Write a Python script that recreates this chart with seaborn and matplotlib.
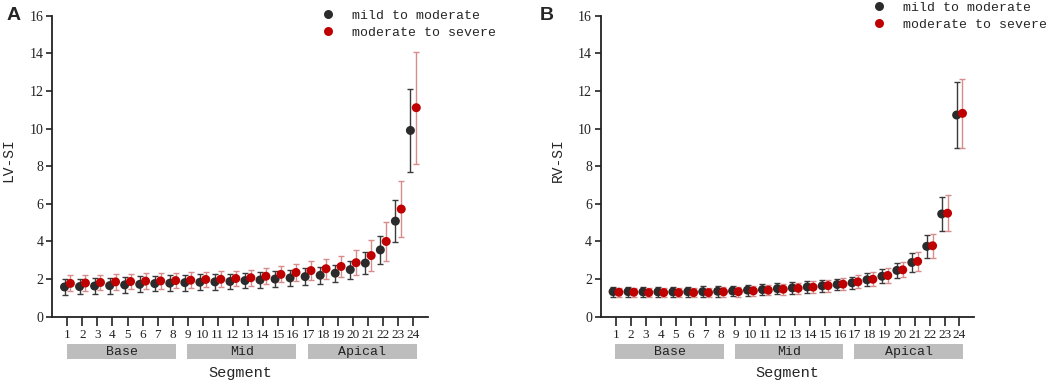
import numpy as np
import pandas as pd
import seaborn as sns
import matplotlib.pyplot as plt
import matplotlib.transforms as mtransforms
from matplotlib.patches import Rectangle

sns.set_style("ticks")
plt.rcParams['font.family'] = ['Liberation Serif', 'DejaVu Serif']

segments = list(range(1, 25))
groups = ["mild to moderate", "moderate to severe"]
regions = ["Base", "Mid", "Apical"]
region_start = [1, 9, 17]
region_end = [8, 16, 24]

# LV-SI (panel A)
lv_mild_mean = [1.58, 1.60, 1.63, 1.65, 1.69, 1.72, 1.76, 1.78, 1.81, 1.83, 1.85, 1.87,
                1.92, 1.95, 2.00, 2.06, 2.13, 2.20, 2.31, 2.50, 2.85, 3.55, 5.08, 9.90]
lv_mild_err = [0.42, 0.42, 0.42, 0.42, 0.42, 0.42, 0.42, 0.42, 0.42, 0.42, 0.42, 0.42,
               0.42, 0.42, 0.43, 0.44, 0.45, 0.45, 0.45, 0.48, 0.58, 0.75, 1.10, 2.19]
lv_sev_mean = [1.77, 1.79, 1.82, 1.85, 1.87, 1.89, 1.90, 1.92, 1.94, 1.98, 1.99, 2.03,
               2.07, 2.15, 2.25, 2.35, 2.45, 2.55, 2.67, 2.87, 3.25, 4.00, 5.72, 11.11]
lv_sev_err = [0.42, 0.42, 0.42, 0.42, 0.42, 0.42, 0.42, 0.42, 0.42, 0.42, 0.42, 0.42,
              0.42, 0.42, 0.43, 0.46, 0.50, 0.53, 0.57, 0.67, 0.80, 1.03, 1.50, 2.98]

# RV-SI (panel B)
rv_mild_mean = [1.33, 1.33, 1.32, 1.32, 1.32, 1.33, 1.33, 1.35, 1.37, 1.41, 1.44, 1.49,
                1.53, 1.58, 1.64, 1.71, 1.80, 1.96, 2.15, 2.46, 2.88, 3.74, 5.46, 10.72]
rv_mild_err = [0.27, 0.27, 0.27, 0.27, 0.27, 0.27, 0.28, 0.28, 0.28, 0.29, 0.29, 0.30,
               0.30, 0.31, 0.31, 0.31, 0.32, 0.34, 0.38, 0.39, 0.50, 0.60, 0.89, 1.74]
rv_sev_mean = [1.30, 1.30, 1.28, 1.28, 1.28, 1.28, 1.28, 1.32, 1.33, 1.37, 1.41, 1.46,
               1.51, 1.57, 1.65, 1.73, 1.85, 1.99, 2.19, 2.49, 2.94, 3.77, 5.50, 10.81]
rv_sev_err = [0.25, 0.25, 0.25, 0.25, 0.25, 0.25, 0.25, 0.26, 0.26, 0.27, 0.28, 0.29,
              0.30, 0.31, 0.32, 0.33, 0.34, 0.36, 0.38, 0.40, 0.51, 0.64, 0.96, 1.83]

pal = {"mild to moderate": "#2b2b2b", "moderate to severe": "#c00000"}
err_col = {"mild to moderate": "#3a3a3a", "moderate to severe": "#d98c8c"}
dodge = {"mild to moderate": -0.19, "moderate to severe": 0.2}
mono = "Liberation Mono"


def make_df(m1, e1, m2, e2):
    frames = []
    for g, m, e in [(groups[0], m1, e1), (groups[1], m2, e2)]:
        frames.append(pd.DataFrame({"segment": segments, "mean": m, "err": e, "group": g}))
    df = pd.concat(frames, ignore_index=True)
    df["x"] = df["segment"] + df["group"].map(dodge)
    return df


def draw(ax, df, ylabel, letter, letter_x, leg_anchor):
    for g in groups:
        sub = df[df["group"] == g]
        ax.errorbar(sub["x"], sub["mean"], yerr=sub["err"], fmt="none", ecolor=err_col[g],
                    elinewidth=1, capsize=2.2, capthick=1, zorder=2)
    sns.scatterplot(data=df, x="x", y="mean", hue="group", palette=pal, s=42,
                    linewidth=0, ax=ax, zorder=3)

    ax.set_xlim(0, 25)
    ax.set_ylim(0, 16)
    ax.set_xticks(segments)
    ax.set_yticks(np.arange(0, 17, 2))
    sns.despine(ax=ax)
    for s in ["left", "bottom"]:
        ax.spines[s].set_linewidth(1.3)
        ax.spines[s].set_color("#222222")
    ax.tick_params(axis="x", length=6.5, width=1.2, pad=2.5, labelsize=9.5, colors="#222222")
    ax.tick_params(axis="y", length=4.5, width=1.2, pad=2, labelsize=10, colors="#222222")

    ax.set_xlabel("Segment", fontsize=11, family=mono)
    ax.xaxis.label.set_va("center")
    ax.xaxis.set_label_coords(0.5, -0.186)
    ax.set_ylabel(ylabel, fontsize=10.5, family=mono)
    ax.yaxis.label.set_va("center")
    ax.yaxis.set_label_coords(-0.116, 0.52)

    trans = mtransforms.blended_transform_factory(ax.transData, ax.transAxes)
    for name, a, b in zip(regions, region_start, region_end):
        ax.add_patch(Rectangle((a - 0.03, -0.1415), b - a + 0.25, 0.051, transform=trans,
                               facecolor="#bdbdbd", edgecolor="none", clip_on=False))
        ax.text((a + b) / 2 + 0.1, -0.117, name, transform=trans, ha="center", va="center",
                fontsize=9.5, family=mono, color="#222222")

    handles, labels = ax.get_legend_handles_labels()
    ax.legend(handles=handles, labels=labels, loc="upper left", bbox_to_anchor=leg_anchor,
              frameon=False, borderpad=0, borderaxespad=0, handlelength=1.0,
              handletextpad=1.3, labelspacing=0.38, prop={"family": mono, "size": 9.5})

    ax.text(letter_x, 1.0, letter, transform=ax.transAxes, fontsize=14, fontweight="bold",
            family="Liberation Sans", ha="center", va="center")


fig = plt.figure(figsize=(10.49, 3.81), dpi=100)
ax_a = fig.add_axes([0.0499, 0.1688, 0.3584, 0.790])
ax_b = fig.add_axes([0.5729, 0.1688, 0.356, 0.790])

draw(ax_a, make_df(lv_mild_mean, lv_mild_err, lv_sev_mean, lv_sev_err),
     "LV-SI", "A", -0.104, (0.716, 1.021))
draw(ax_b, make_df(rv_mild_mean, rv_mild_err, rv_sev_mean, rv_sev_err),
     "RV-SI", "B", -0.145, (0.728, 1.047))

fig.savefig("out.png", dpi=100)
